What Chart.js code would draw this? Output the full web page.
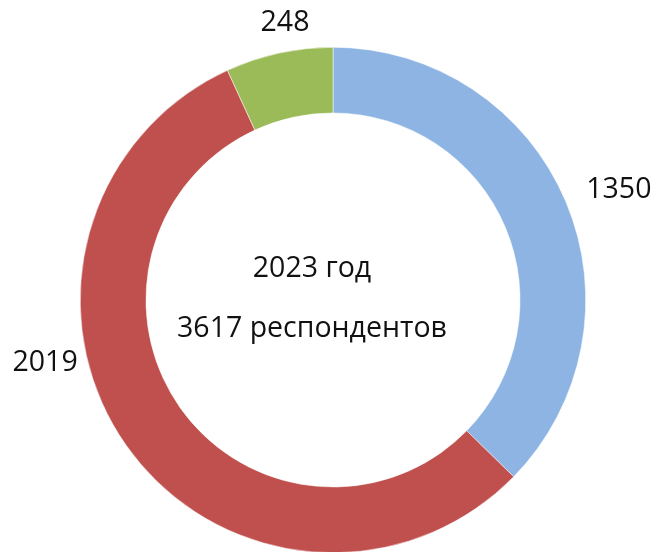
<!DOCTYPE html>
<html>
<head>
<meta charset="utf-8">
<script src="https://cdn.jsdelivr.net/npm/chart.js@4"></script>
<style>
    html, body { margin: 0; padding: 0; background: #fff; overflow: hidden; }
    #wrap { width: 654px; height: 600px; }
</style>
</head>
<body>
<div id="wrap"><canvas id="donut" width="654" height="600"></canvas></div>
<script>
const categories = ['Группа 1', 'Группа 2', 'Группа 3'];
const respondents = [1350, 2019, 248];
const sliceColors = ['#8EB4E3', '#C0504D', '#9BBB59'];
const centerLines = ['2023 год', '3617 респондентов'];

// label anchors relative to the ring centre, in units of outer radius
const labelSpots = [[1.131, -0.435], [-1.139, 0.249], [-0.19, -1.095]];

const labelFont = '28.5px "Open Sans", sans-serif';

const ringLabels = {
    id: 'ringLabels',
    afterDatasetsDraw(chart) {
        const ctx = chart.ctx;
        const arcs = chart.getDatasetMeta(0).data;
        if (!arcs.length) return;
        const cx = arcs[0].x, cy = arcs[0].y, r = arcs[0].outerRadius;
        ctx.save();
        ctx.font = labelFont;
        ctx.fillStyle = '#111';
        ctx.textAlign = 'center';
        ctx.textBaseline = 'middle';
        arcs.forEach((arc, i) => {
            const spot = labelSpots[i];
            ctx.fillText(String(chart.data.datasets[0].data[i]), cx + spot[0] * r, cy + spot[1] * r);
        });
        ctx.fillText(centerLines[0], cx - 21, cy - 31);
        ctx.fillText(centerLines[1], cx - 21, cy + 29);
        ctx.restore();
    }
};

new Chart(document.getElementById('donut'), {
    type: 'doughnut',
    data: {
        labels: categories,
        datasets: [{
            data: respondents,
            backgroundColor: sliceColors,
            borderColor: '#fff',
            borderWidth: 0.5
        }]
    },
    options: {
        responsive: false,
        animation: false,
        cutout: '74%',
        layout: { padding: { top: 47, bottom: 47, left: 80, right: 68 } },
        plugins: {
            legend: { display: false },
            tooltip: { enabled: false }
        }
    },
    plugins: [ringLabels]
});
</script>
</body>
</html>
